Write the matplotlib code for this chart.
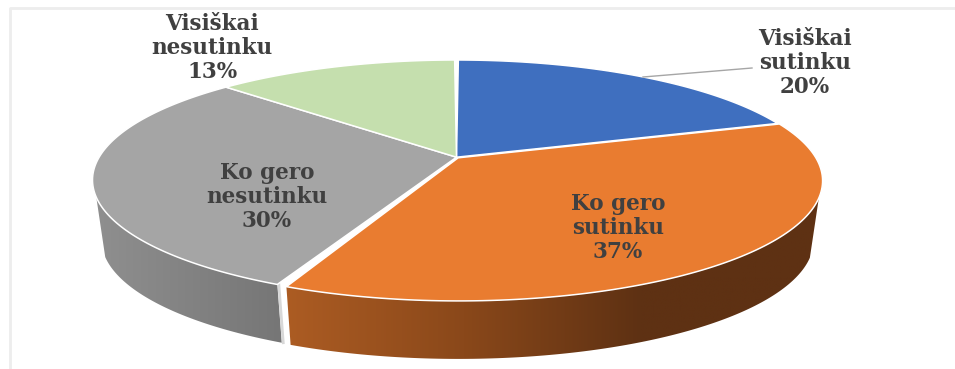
import numpy as np
import matplotlib.pyplot as plt
from matplotlib.colors import LinearSegmentedColormap
from matplotlib.patches import Polygon

# data
categories = ["Visiškai\nsutinku", "Ko gero\nsutinku", "Ko gero\nnesutinku", "Visiškai\nnesutinku"]
values = [20, 37, 30, 13]
colors = ["#3F6FBF", "#E97C30", "#A5A5A5", "#C5DFAE"]
label_x = [805, 618, 267, 212]
label_y = [63, 228, 197, 48]
explode = [0, 0.007, 0, 0]
trim_start = [0.35, 0, -0.7, 0]
trim_end = [0, 1.8, 0, 0.35]

# geometry of the tilted pie, in pixels
cx, top_cy, top_rx, top_ry = 456.5, 180, 364, 120
bot_cy, bot_rx, bot_ry = 240, 355, 118
tilt = 0.19
side_from, side_to = 109, 251


def project(ang, cy, rx, ry, off=(0, 0), r=1.0):
    # angle clockwise from 12 o'clock on a disk, with perspective
    u = r * np.sin(np.radians(ang)) + off[0]
    v = r * np.cos(np.radians(ang)) + off[1]
    d = 1 + tilt * v
    return cx + rx * u * np.sqrt(1 - tilt**2) / d, cy - ry * (v + tilt) / d


fig = plt.figure(figsize=(9.55, 3.69), dpi=100)
ax = fig.add_axes([0, 0, 1, 1])

edges = np.cumsum([0] + values) * 3.6
starts = edges[:-1] + np.array(trim_start)
ends = edges[1:] - np.array(trim_end)
mids = (edges[:-1] + edges[1:]) / 2
offsets = [(e * np.sin(np.radians(m)), e * np.cos(np.radians(m))) for e, m in zip(explode, mids)]

# sides first, with a horizontal gradient
side_cmaps = {
    1: LinearSegmentedColormap.from_list("o", ["#AC5C23", "#8A481A", "#5E3113", "#5E3113"]),
    2: LinearSegmentedColormap.from_list("g", ["#8F8F8F", "#767676"]),
}
for i, cmap in side_cmaps.items():
    ang = np.linspace(max(starts[i], side_from), min(ends[i], side_to), 120)
    tx, ty = project(ang, top_cy, top_rx, top_ry, offsets[i])
    bx, by = project(ang, bot_cy, bot_rx, bot_ry, offsets[i])
    pts = np.column_stack([np.r_[tx, bx[::-1]], np.r_[ty, by[::-1]]])
    poly = Polygon(pts, closed=True, facecolor="none", edgecolor="none")
    ax.add_patch(poly)
    grad = np.linspace(0, 1, 256).reshape(1, -1)
    im = ax.imshow(grad, cmap=cmap, extent=[pts[:, 0].min(), pts[:, 0].max(), pts[:, 1].max(), pts[:, 1].min()],
                   aspect="auto", zorder=1)
    im.set_clip_path(poly)

# pale strip where grey and orange sides split
gx, gy = project(starts[2], top_cy, top_rx, top_ry)
gbx, gby = project(starts[2], bot_cy, bot_rx, bot_ry)
ax.plot([gx + 1.5, gbx + 1.5], [gy, gby], color="#D8D8D8", lw=2, zorder=2)

# top faces
for i in range(len(values)):
    ang = np.linspace(starts[i], ends[i], 120)
    x, y = project(ang, top_cy, top_rx, top_ry, offsets[i])
    apex_x, apex_y = project(0, top_cy, top_rx, top_ry, offsets[i], r=0)
    ax.fill(np.r_[apex_x, x], np.r_[apex_y, y], color=colors[i], ec="white", lw=1.1, zorder=3, joinstyle="round")

# labels
for name, val, lx, ly in zip(categories, values, label_x, label_y):
    ax.text(lx, ly, f"{name}\n{val}%", ha="center", va="center", ma="center", family="DejaVu Serif",
            weight="bold", fontsize=15.5, color="#404040", linespacing=1.12, zorder=5)

# leader line of the blue slice
ax.plot([643, 752], [77, 68], color="#A6A6A6", lw=1, zorder=4)

# frame of the pasted picture
ax.plot([10, 10, 955], [369, 7.5, 7.5], color="#EDEDED", lw=2, zorder=0)

ax.set_xlim(0, 955)
ax.set_ylim(369, 0)
ax.axis("off")
fig.savefig("out.png", dpi=100, facecolor="white")
